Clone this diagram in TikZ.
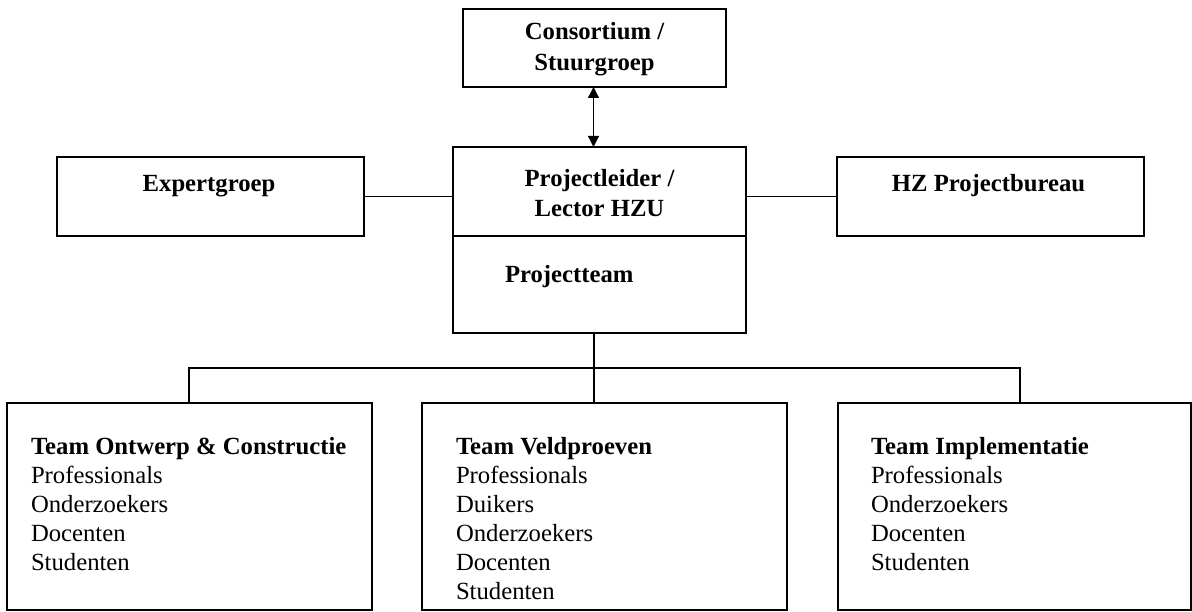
\documentclass[tikz,border=0pt]{standalone}
\usepackage{fontspec}
\setmainfont{Liberation Serif}
\usetikzlibrary{arrows.meta}
\tikzset{
  box/.style={draw=black, line width=1.3pt, inner sep=0pt, outer sep=0pt},
  conn/.style={draw=black, line width=1.3pt},
  txt/.style={inner sep=0pt, outer sep=0pt, font=\fontsize{24.7}{30}\selectfont},
  btxt/.style={txt, font=\fontsize{24.7}{30}\selectfont\bfseries},
}
\newcommand{\boxlines}[1]{\begin{tabular}[t]{@{}l@{}}#1\end{tabular}}
\newcommand{\cboxlines}[1]{\begin{tabular}[t]{@{}c@{}}#1\end{tabular}}
\begin{document}
\begin{tikzpicture}[x=1pt,y=-1pt]
\useasboundingbox (0,0) rectangle (1192,612);
% boxes
\node[box, minimum width=263pt, minimum height=78pt] (cons) at (594.5,48) {};
\node[box, minimum width=293pt, minimum height=89pt] (pl) at (599.5,191.5) {};
\node[box, minimum width=293pt, minimum height=97pt] (pt) at (599.5,284.5) {};
\node[box, minimum width=307pt, minimum height=79pt] (exp) at (210.5,196.5) {};
\node[box, minimum width=307pt, minimum height=79pt] (hz) at (990.5,196.5) {};
\node[box, minimum width=365pt, minimum height=207pt] (tl) at (189.5,506.5) {};
\node[box, minimum width=365pt, minimum height=207pt] (tm) at (604.5,506.5) {};
\node[box, minimum width=353pt, minimum height=207pt] (tr) at (1014.5,506.5) {};
% texts
\node[btxt, anchor=base] (tcons) at (594.5,40) {\fontsize{24.7}{31}\selectfont\bfseries\cboxlines{Consortium /\\Stuurgroep}};
\node[btxt, anchor=base] (tpl) at (599.5,187) {\cboxlines{Projectleider /\\Lector HZU}};
\node[btxt, anchor=base west] (tpt) at (505,283) {Projectteam};
\node[btxt, anchor=base] (texp) at (209,192) {Expertgroep};
\node[btxt, anchor=base] (thz) at (988.5,192) {HZ Projectbureau};
\node[txt, anchor=base west] (ttl) at (31,454) {\fontsize{24.7}{29.2}\selectfont\boxlines{\textbf{Team Ontwerp \& Constructie}\\Professionals\\Onderzoekers\\Docenten\\Studenten}};
\node[txt, anchor=base west] (ttm) at (456,454) {\fontsize{24.7}{29.2}\selectfont\boxlines{\textbf{Team Veldproeven}\\Professionals\\Duikers\\Onderzoekers\\Docenten\\Studenten}};
\node[txt, anchor=base west] (ttr) at (871,454) {\fontsize{24.7}{29.2}\selectfont\boxlines{\textbf{Team Implementatie}\\Professionals\\Onderzoekers\\Docenten\\Studenten}};
% connectors
\coordinate (ax) at (593.5,0);
\draw[conn, {Triangle[length=11pt,width=11pt]}-{Triangle[length=11pt,width=11pt]}] (ax |- cons.south) -- (ax |- pl.north);
\draw[conn] (exp.east) -- (exp.east -| pl.west);
\draw[conn] (hz.west -| pl.east) -- (hz.west);
\coordinate (j) at (594,368);
\coordinate (jl) at (189,368);
\coordinate (jr) at (1020,368);
\draw[conn] (j |- pt.south) -- (j);
\draw[conn] (jl |- tl.north) -- (jl) -- (jr) -- (jr |- tr.north);
\draw[conn] (j) -- (j |- tm.north);
\end{tikzpicture}
\end{document}
